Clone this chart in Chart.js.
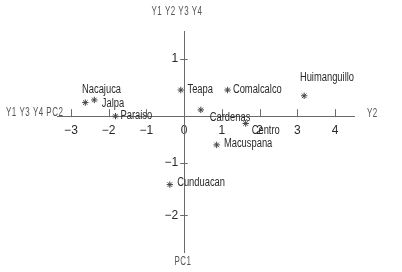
<!DOCTYPE html>
<html><head><meta charset="utf-8">
<script src="https://cdn.jsdelivr.net/npm/chart.js@4"></script>
<style>html,body{margin:0;padding:0;background:#fff;} canvas{display:block}</style>
</head><body>
<div style="width:402px;height:272px"><canvas id="c" width="402" height="272"></canvas></div>
<script>
const names = ['Teapa','Comalcalco','Huimanguillo','Nacajuca','Jalpa','Paraiso','Cardenas','Centro','Macuspana','Cunduacan'];
const pc2 = [-0.09, 1.15, 3.18, -2.62, -2.38, -1.82, 0.44, 1.63, 0.86, -0.38];
const pc1 = [0.40, 0.40, 0.29, 0.16, 0.21, -0.10, 0.02, -0.24, -0.65, -1.41];
const xTicks = [-3, -2, -1, 0, 1, 2, 3, 4];
const yTicks = [1, 0, -1, -2];
const topTitle = 'Y1 Y2 Y3 Y4';
const leftTitle = 'Y1 Y3 Y4 PC2';
const rightTitle = 'Y2';
const bottomTitle = 'PC1';

// label placement (style only)
const labelOffsets = {
  Teapa:[6.7,0], Comalcalco:[5.3,0], Huimanguillo:[-4.3,-18], Nacajuca:[-3.3,-12.7],
  Jalpa:[7.4,4], Paraiso:[5,0], Cardenas:[9,7.3], Centro:[6,7.7], Macuspana:[7.3,-1.7], Cunduacan:[7.3,-2.3]
};
const LINE = '#6a6a6a';
const TXT = '#2a2a2a';
const LABEL_FONT = '12px "Liberation Sans", Arial, sans-serif';

const overlay = {
  id: 'overlay',
  afterDraw(chart) {
    const ctx = chart.ctx;
    const xs = chart.scales.x, ys = chart.scales.y;
    const x0 = xs.getPixelForValue(0);
    const yAxisPix = ys.getPixelForValue(-0.1);
    ctx.save();
    ctx.strokeStyle = LINE;
    ctx.lineWidth = 1;
    // tick marks
    xTicks.forEach(v => {
      const px = Math.round(xs.getPixelForValue(v)) + 0.5;
      ctx.beginPath(); ctx.moveTo(px, yAxisPix - 7); ctx.lineTo(px, yAxisPix + 1); ctx.stroke();
    });
    yTicks.forEach(v => {
      if (v === 0) return;
      const py = Math.round(ys.getPixelForValue(v)) + 0.5;
      ctx.beginPath(); ctx.moveTo(x0 - 4, py); ctx.lineTo(x0 + 3.5, py); ctx.stroke();
    });
    // point labels (condensed)
    ctx.fillStyle = TXT;
    ctx.font = LABEL_FONT;
    ctx.textAlign = 'left';
    ctx.textBaseline = 'middle';
    const meta = chart.getDatasetMeta(0);
    meta.data.forEach((pt, i) => {
      const o = labelOffsets[names[i]] || [6, 0];
      ctx.save();
      ctx.translate(pt.x + o[0], pt.y + o[1]);
      ctx.scale(0.78, 1);
      ctx.fillText(names[i], 0, 0);
      ctx.restore();
    });
    // axis titles (thin narrow font, stretched vertically)
    ctx.fillStyle = '#555';
    ctx.font = '10px "Liberation Sans", sans-serif';
    const drawT = (t, x, y, align) => {
      ctx.save();
      ctx.translate(x, y);
      ctx.scale(0.8, 1.25);
      ctx.textAlign = align;
      ctx.textBaseline = 'middle';
      ctx.fillText(t, 0, 0);
      ctx.restore();
    };
    ctx.letterSpacing = '0.6px';
    drawT(topTitle, 177, 12, 'center');
    drawT(leftTitle, 6, 113, 'left');
    drawT(rightTitle, 367, 114, 'left');
    drawT(bottomTitle, 183, 262, 'center');
    ctx.restore();
  }
};

new Chart(document.getElementById('c'), {
  type: 'scatter',
  data: {
    datasets: [{
      data: pc2.map((x, i) => ({x, y: pc1[i]})),
      pointStyle: 'star',
      radius: 3.2,
      borderColor: '#444',
      borderWidth: 1,
      backgroundColor: '#444'
    }]
  },
  options: {
    responsive: false,
    animation: false,
    devicePixelRatio: 1,
    layout: { padding: { left: 57, right: 48, top: 31, bottom: 20 } },
    plugins: { legend: { display: false }, tooltip: { enabled: false } },
    scales: {
      x: {
        type: 'linear', min: -3.37, max: 4.5,
        position: { y: -0.1 },
        grid: { display: true, drawOnChartArea: false, drawTicks: false },
        border: { display: true, color: LINE, width: 1 },
        afterBuildTicks: s => { s.ticks = xTicks.map(v => ({value: v})); },
        ticks: {
          padding: 7, color: TXT,
          font: { family: '"Liberation Sans", Arial, sans-serif', size: 12 },
          callback: v => (v < 0 ? '\u2212' + Math.abs(v) : String(v))
        }
      },
      y: {
        type: 'linear', min: -2.70, max: 1.53,
        position: { x: 0 },
        grid: { display: true, drawOnChartArea: false, drawTicks: false },
        border: { display: true, color: LINE, width: 1 },
        afterBuildTicks: s => { s.ticks = yTicks.map(v => ({value: v})); },
        ticks: {
          padding: 7, color: TXT,
          font: { family: '"Liberation Sans", Arial, sans-serif', size: 12 },
          callback: v => (v === 0 ? '' : (v < 0 ? '\u2212' + Math.abs(v) : String(v)) + '\u2002')
        }
      }
    }
  },
  plugins: [overlay]
});
</script>
</body></html>
